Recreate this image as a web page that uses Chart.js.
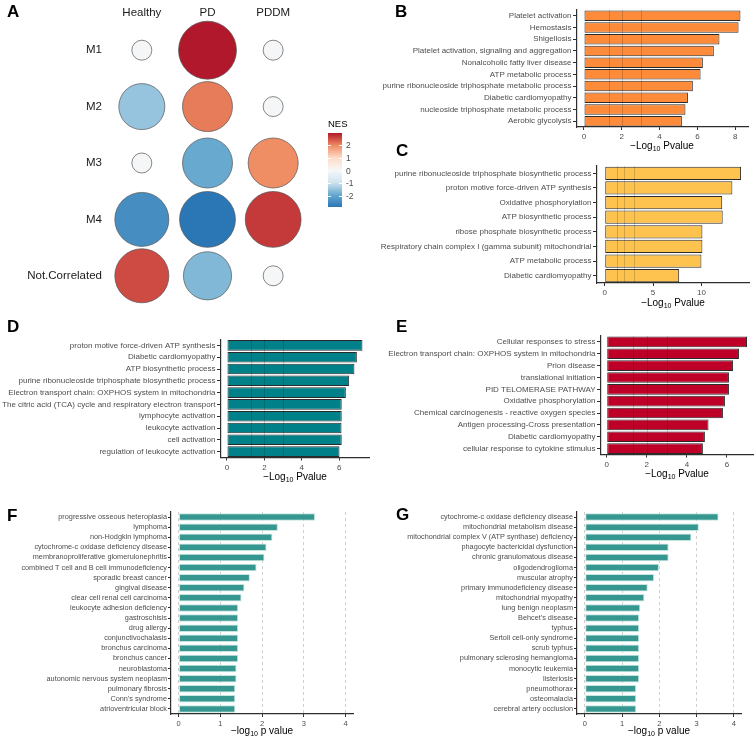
<!DOCTYPE html>
<html>
<head>
<meta charset="utf-8">
<script src="https://cdn.jsdelivr.net/npm/chart.js@4.4.0/dist/chart.umd.min.js"></script>
<style>
  body { margin: 0; background: #fff; width: 756px; height: 739px; position: relative; overflow: hidden;
         font-family: "Liberation Sans", Arial, sans-serif; }
  canvas { position: absolute; }
  .tag { position: absolute; font-weight: bold; font-size: 17px; line-height: 1; color: #000; }
  .ttl { position: absolute; font-size: 10px; line-height: 1; color: #000; transform: translateX(-50%); white-space: nowrap; }
  .ttl sub { font-size: 7px; line-height: 0; vertical-align: -2px; }
</style>
</head>
<body>
<canvas id="cA"></canvas>
<canvas id="cB"></canvas>
<canvas id="cC"></canvas>
<canvas id="cD"></canvas>
<canvas id="cE"></canvas>
<canvas id="cF"></canvas>
<canvas id="cG"></canvas>

<div class="tag" style="left:7px;top:3px">A</div>
<div class="tag" style="left:395px;top:3px">B</div>
<div class="tag" style="left:396px;top:142px">C</div>
<div class="tag" style="left:7px;top:318px">D</div>
<div class="tag" style="left:396px;top:318px">E</div>
<div class="tag" style="left:7px;top:507px">F</div>
<div class="tag" style="left:396px;top:506px">G</div>

<div class="ttl" style="left:662px;top:140.5px">&minus;Log<sub>10</sub> Pvalue</div>
<div class="ttl" style="left:673px;top:297.5px">&minus;Log<sub>10</sub> Pvalue</div>
<div class="ttl" style="left:295px;top:471.5px">&minus;Log<sub>10</sub> Pvalue</div>
<div class="ttl" style="left:677px;top:468.5px">&minus;Log<sub>10</sub> Pvalue</div>
<div class="ttl" style="left:262px;top:726px">&minus;log<sub>10</sub> p value</div>
<div class="ttl" style="left:659px;top:726px">&minus;log<sub>10</sub> p value</div>

<script>
// ---- panel A : module enrichment (NES) ----
var modules = ['M1', 'M2', 'M3', 'M4', 'Not.Correlated'];
var groups = ['Healthy', 'PD', 'PDDM'];
var nesHealthy = [0, -1.47, 0, -2.43, 2.52];
var nesPD = [2.95, 2.1, -1.9, -2.87, -1.66];
var nesPDDM = [0, 0, 1.95, 2.66, 0];
// bubble size variable
var sigHealthy = [1, 5.3, 1, 7.3, 7.3];
var sigPD = [8.4, 6.25, 6.25, 7.8, 5.8];
var sigPDDM = [1, 1, 6.25, 7.8, 1];
var nesTicks = [2, 1, 0, -1, -2];
var nesLimits = [-2.87, 2.95];

// ---- panel B ----
var labelsB = ['Platelet activation', 'Hemostasis', 'Shigellosis', 'Platelet activation, signaling and aggregation',
  'Nonalcoholic fatty liver disease', 'ATP metabolic process', 'purine ribonucleoside triphosphate metabolic process',
  'Diabetic cardiomyopathy', 'nucleoside triphosphate metabolic process', 'Aerobic glycolysis'];
var valuesB = [8.28, 8.18, 7.17, 6.87, 6.29, 6.17, 5.76, 5.50, 5.37, 5.18];
var ticksB = [0, 2, 4, 6, 8];

// ---- panel C ----
var labelsC = ['purine ribonucleoside triphosphate biosynthetic process', 'proton motive force-driven ATP synthesis',
  'Oxidative phosphorylation', 'ATP biosynthetic process', 'ribose phosphate biosynthetic process',
  'Respiratory chain complex I (gamma subunit) mitochondrial', 'ATP metabolic process', 'Diabetic cardiomyopathy'];
var valuesC = [14.1, 13.2, 12.15, 12.2, 10.1, 10.1, 10.0, 7.7];
var ticksC = [0, 5, 10];

// ---- panel D ----
var labelsD = ['proton motive force-driven ATP synthesis', 'Diabetic cardiomyopathy', 'ATP biosynthetic process',
  'purine ribonucleoside triphosphate biosynthetic process', 'Electron transport chain: OXPHOS system in mitochondria',
  'The citric acid (TCA) cycle and respiratory electron transport', 'lymphocyte activation', 'leukocyte activation',
  'cell activation', 'regulation of leukocyte activation'];
var valuesD = [7.25, 6.95, 6.82, 6.54, 6.36, 6.14, 6.14, 6.13, 6.14, 6.02];
var ticksD = [0, 2, 4, 6];

// ---- panel E ----
var labelsE = ['Cellular responses to stress', 'Electron transport chain: OXPHOS system in mitochondria', 'Prion disease',
  'translational initiation', 'PID TELOMERASE PATHWAY', 'Oxidative phosphorylation',
  'Chemical carcinogenesis - reactive oxygen species', 'Antigen processing-Cross presentation',
  'Diabetic cardiomyopathy', 'cellular response to cytokine stimulus'];
var valuesE = [7.0, 6.6, 6.3, 6.1, 6.1, 5.9, 5.8, 5.08, 4.9, 4.8];
var ticksE = [0, 2, 4, 6];

// ---- panel F ----
var labelsF = ['progressive osseous heteroplasia', 'lymphoma', 'non-Hodgkin lymphoma', 'cytochrome-c oxidase deficiency disease',
  'membranoproliferative glomerulonephritis', 'combined T cell and B cell immunodeficiency', 'sporadic breast cancer',
  'gingival disease', 'clear cell renal cell carcinoma', 'leukocyte adhesion deficiency', 'gastroschisis', 'drug allergy',
  'conjunctivochalasis', 'bronchus carcinoma', 'bronchus cancer', 'neuroblastoma', 'autonomic nervous system neoplasm',
  'pulmonary fibrosis', "Conn's syndrome", 'atrioventricular block'];
var valuesF = [3.27, 2.38, 2.25, 2.11, 2.06, 1.87, 1.71, 1.58, 1.51, 1.43, 1.43, 1.43, 1.43, 1.43, 1.43, 1.39, 1.39, 1.36, 1.36, 1.36];
var ticksF = [0, 1, 2, 3, 4];

// ---- panel G ----
var labelsG = ['cytochrome-c oxidase deficiency disease', 'mitochondrial metabolism disease',
  'mitochondrial complex V (ATP synthase) deficiency', 'phagocyte bactericidal dysfunction', 'chronic granulomatous disease',
  'oligodendroglioma', 'muscular atrophy', 'primary immunodeficiency disease', 'mitochondrial myopathy', 'lung benign neoplasm',
  "Behcet's disease", 'typhus', 'Sertoli cell-only syndrome', 'scrub typhus', 'pulmonary sclerosing hemangioma',
  'monocytic leukemia', 'listeriosis', 'pneumothorax', 'osteomalacia', 'cerebral artery occlusion'];
var valuesG = [3.59, 3.06, 2.86, 2.25, 2.25, 1.99, 1.86, 1.69, 1.60, 1.49, 1.46, 1.46, 1.46, 1.46, 1.46, 1.46, 1.46, 1.38, 1.38, 1.38];
var ticksG = [0, 1, 2, 3, 4];

// significance reference lines (-log10 of 0.05, 0.01, 0.001)
var sigLines = [1.3, 2, 3];

Chart.defaults.font.family = '"Liberation Sans", Arial, sans-serif';

// RdBu-like palette, low -> high
var rdbu = ['#2b76b5', '#67a9cf', '#d1e5f0', '#f7f7f7', '#fddbc7', '#ef8a62', '#b2182b'];
function hexRgb(h) {
  return [parseInt(h.substr(1, 2), 16), parseInt(h.substr(3, 2), 16), parseInt(h.substr(5, 2), 16)];
}
function nesColor(v) {
  var t = (v - nesLimits[0]) / (nesLimits[1] - nesLimits[0]);
  t = Math.max(0, Math.min(1, t));
  var p = t * (rdbu.length - 1);
  var i = Math.min(Math.floor(p), rdbu.length - 2);
  var f = p - i;
  var a = hexRgb(rdbu[i]), b = hexRgb(rdbu[i + 1]);
  return 'rgb(' + Math.round(a[0] + (b[0] - a[0]) * f) + ',' + Math.round(a[1] + (b[1] - a[1]) * f) + ',' +
    Math.round(a[2] + (b[2] - a[2]) * f) + ')';
}

function place(id, box) {
  var cv = document.getElementById(id);
  cv.width = box.w; cv.height = box.h;
  cv.style.left = box.x + 'px'; cv.style.top = box.y + 'px';
  return cv;
}

// colour bar legend for NES
var colorbarPlugin = {
  id: 'nesBar',
  afterDraw: function (chart) {
    var ctx = chart.ctx;
    var x0 = 328, x1 = 342, y0 = 133, y1 = 207;
    var span = nesLimits[1] - nesLimits[0];
    for (var y = y0; y < y1; y++) {
      ctx.fillStyle = nesColor(nesLimits[1] - (y + 0.5 - y0) / (y1 - y0) * span);
      ctx.fillRect(x0, y, x1 - x0, 1);
    }
    ctx.save();
    ctx.strokeStyle = '#ffffff';
    ctx.lineWidth = 1;
    ctx.fillStyle = '#4d4d4d';
    ctx.font = '8.5px "Liberation Sans", Arial, sans-serif';
    ctx.textBaseline = 'middle';
    ctx.textAlign = 'left';
    nesTicks.forEach(function (t) {
      var yy = Math.round(y0 + (nesLimits[1] - t) / span * (y1 - y0)) + 0.5;
      ctx.beginPath();
      ctx.moveTo(x0, yy); ctx.lineTo(x0 + 3, yy);
      ctx.moveTo(x1 - 3, yy); ctx.lineTo(x1, yy);
      ctx.stroke();
      ctx.fillText(String(t), x1 + 4, yy);
    });
    ctx.fillStyle = '#000';
    ctx.font = '9.5px "Liberation Sans", Arial, sans-serif';
    ctx.textBaseline = 'alphabetic';
    ctx.fillText('NES', x0, 127);
    ctx.restore();
  }
};

var bubbleData = [];
var nesCols = [nesHealthy, nesPD, nesPDDM];
var sigCols = [sigHealthy, sigPD, sigPDDM];
for (var j = 0; j < groups.length; j++) {
  for (var i = 0; i < modules.length; i++) {
    bubbleData.push({ x: j, y: i, r: 10 * Math.sqrt(sigCols[j][i]), nes: nesCols[j][i] });
  }
}

function noPad(s) { s.paddingTop = 0; s.paddingBottom = 0; s.paddingLeft = 0; s.paddingRight = 0; }

new Chart(place('cA', { x: 0, y: 0, w: 378, h: 310 }), {
  type: 'bubble',
  data: {
    datasets: [{
      data: bubbleData,
      backgroundColor: function (c) { return nesColor(c.raw.nes); },
      borderColor: '#555555',
      borderWidth: 0.7,
      clip: false
    }]
  },
  options: {
    responsive: false, animation: false, devicePixelRatio: 1,
    layout: { autoPadding: false, padding: { left: 0, top: 0, right: 72, bottom: 6 } },
    plugins: { legend: { display: false }, tooltip: { enabled: false } },
    scales: {
      x: {
        type: 'linear', position: 'top', min: -0.5, max: 2.5,
        grid: { display: false, drawTicks: false }, border: { display: false },
        afterBuildTicks: function (s) { s.ticks = groups.map(function (g, k) { return { value: k }; }); },
        afterFit: function (s) { s.height = 22; noPad(s); },
        ticks: { callback: function (v) { return groups[v]; }, font: { size: 11.5 }, color: '#1a1a1a',
                 padding: 2, maxRotation: 0, autoSkip: false }
      },
      y: {
        type: 'linear', reverse: true, min: -0.5, max: 4.5,
        grid: { display: false, drawTicks: false }, border: { display: false },
        afterBuildTicks: function (s) { s.ticks = modules.map(function (m, k) { return { value: k }; }); },
        afterFit: function (s) { s.width = 109; noPad(s); },
        ticks: { callback: function (v) { return modules[v]; }, font: { size: 11.5 }, color: '#1a1a1a',
                 padding: 7, autoSkip: false }
      }
    }
  },
  plugins: [colorbarPlugin]
});

// threshold lines over bars
var sigPlugin = {
  id: 'sigLines',
  afterDatasetsDraw: function (chart, args, opts) {
    if (!opts.values) return;
    var ctx = chart.ctx, a = chart.chartArea, x = chart.scales.x;
    ctx.save();
    ctx.strokeStyle = 'rgba(0,0,0,0.17)';
    ctx.lineWidth = 1;
    opts.values.forEach(function (v) {
      var px = Math.round(x.getPixelForValue(v)) + 0.5;
      ctx.beginPath(); ctx.moveTo(px, a.top); ctx.lineTo(px, a.bottom); ctx.stroke();
    });
    ctx.restore();
  }
};

function barPanel(id, box, plot, labels, values, st) {
  var ink = '#2e2e2e';
  return new Chart(place(id, box), {
    type: 'bar',
    data: {
      labels: labels,
      datasets: [{
        data: values, backgroundColor: st.fill, borderColor: st.edge, borderWidth: st.edgeW,
        borderSkipped: false, barPercentage: st.barPct, categoryPercentage: 1
      }]
    },
    options: {
      indexAxis: 'y', responsive: false, animation: false, devicePixelRatio: 1,
      layout: { autoPadding: false,
                padding: { left: 0, top: plot.t - box.y, right: box.x + box.w - plot.r, bottom: box.y + box.h - plot.b - 14 } },
      plugins: { legend: { display: false }, tooltip: { enabled: false }, sigLines: { values: st.sig } },
      scales: {
        x: {
          type: 'linear', min: st.min, max: st.max,
          afterBuildTicks: function (s) { s.ticks = st.ticks.map(function (v) { return { value: v }; }); },
          afterFit: function (s) { s.height = 14; noPad(s); },
          grid: { drawOnChartArea: !!st.dashed, color: '#cfcfcf', lineWidth: 1, tickColor: ink, tickLength: 3, tickWidth: 1 },
          border: { display: true, color: ink, width: 1.2, dash: st.dashed ? [3, 3] : [] },
          ticks: { font: { size: st.tickFont }, color: '#4d4d4d', padding: 2, maxRotation: 0, autoSkip: false }
        },
        y: {
          type: 'category', offset: true,
          afterFit: function (s) { s.width = plot.l - box.x; noPad(s); },
          grid: { display: true, drawOnChartArea: false, offset: false, tickColor: ink, tickLength: st.tickLen, tickWidth: 1 },
          border: { display: true, color: ink, width: 1.2 },
          ticks: { font: { size: st.labelFont }, color: '#4d4d4d', padding: st.labPad, autoSkip: false }
        }
      }
    },
    plugins: [sigPlugin]
  });
}

var solidStyle = { edge: '#2a2a2a', edgeW: 1, barPct: 0.9, tickFont: 8, labelFont: 8, tickLen: 4, labPad: 1.5, sig: sigLines };
function withStyle(extra) { return Object.assign({}, solidStyle, extra); }

barPanel('cB', { x: 378, y: 0, w: 378, h: 145 }, { l: 577, t: 10, r: 748, b: 127 }, labelsB, valuesB,
  withStyle({ fill: '#fd8b3a', min: -0.37, max: 8.68, ticks: ticksB }));
barPanel('cC', { x: 378, y: 150, w: 378, h: 148 }, { l: 597, t: 166, r: 749, b: 283 }, labelsC, valuesC,
  withStyle({ fill: '#fec34e', min: -0.8, max: 14.92, ticks: ticksC }));
barPanel('cD', { x: 0, y: 330, w: 378, h: 142 }, { l: 221, t: 339.5, r: 369, b: 457.5 }, labelsD, valuesD,
  withStyle({ fill: '#008189', min: -0.32, max: 7.6, ticks: ticksD }));
barPanel('cE', { x: 378, y: 330, w: 378, h: 140 }, { l: 601, t: 336, r: 753, b: 454.5 }, labelsE, valuesE,
  withStyle({ fill: '#be0028', min: -0.285, max: 7.3, ticks: ticksE }));

var softStyle = { fill: '#35978f', edge: '#c4e5e0', edgeW: 1, barPct: 0.74, tickFont: 7.5, labelFont: 7.3,
                  tickLen: 3, labPad: 1, dashed: true, sig: null };
barPanel('cF', { x: 0, y: 505, w: 378, h: 225 }, { l: 171, t: 512, r: 353, b: 714 }, labelsF, valuesF,
  Object.assign({}, softStyle, { min: -0.18, max: 4.18, ticks: ticksF }));
barPanel('cG', { x: 378, y: 505, w: 378, h: 225 }, { l: 577, t: 512, r: 741, b: 714 }, labelsG, valuesG,
  Object.assign({}, softStyle, { min: -0.207, max: 4.19, ticks: ticksG }));
</script>
</body>
</html>
